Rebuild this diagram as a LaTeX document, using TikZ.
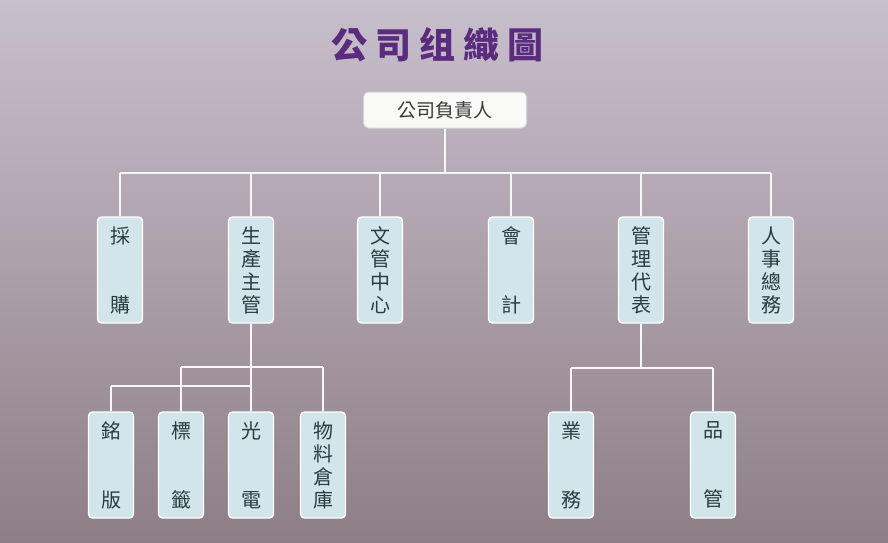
\documentclass[tikz,border=0pt]{standalone}
\usepackage{fontspec}
\newfontfamily\cjk{Noto Sans CJK TC}
\definecolor{bgtop}{HTML}{C8BFCD}
\definecolor{bgmid}{HTML}{B0A5B5}
\definecolor{bgbot}{HTML}{8E7F86}
\definecolor{boxfill}{HTML}{D2E5EB}
\definecolor{boxtext}{HTML}{263F3E}
\definecolor{titlec}{HTML}{5B2C7E}
\definecolor{bossfill}{HTML}{F9F9F8}
\definecolor{bossdraw}{HTML}{D6D6D6}
\definecolor{bosstext}{HTML}{3A3A3A}
\tikzset{
  unit/.style={draw=white, line width=1.4pt, fill=boxfill, rounded corners=4pt,
    minimum width=45pt, minimum height=106pt, inner sep=0pt, align=center,
    text=boxtext, font=\cjk\fontsize{20}{23}\selectfont},
  boss/.style={draw=bossdraw, line width=1pt, fill=bossfill, rounded corners=5pt,
    minimum width=163pt, minimum height=36pt, inner sep=0pt,
    text=bosstext, font=\cjk\fontsize{19}{23}\selectfont},
  conn/.style={draw=white!94!gray, line width=1.5pt},
  titletext/.style={text=titlec, font=\cjk\bfseries\fontsize{36}{40}\selectfont, inner sep=0pt}
}
\begin{document}
\begin{tikzpicture}[x=1pt,y=-1pt]
\useasboundingbox (0,0) rectangle (888,542);
\shade[top color=bgtop, middle color=bgmid, bottom color=bgbot] (0,0) rectangle (888,542);

\node[titletext] (title) at (437.5,45) {公\hspace{8pt}司\hspace{8pt}组\hspace{8pt}織\hspace{8pt}圖};

\node[boss] (ceo) at (445,110) {公司負責人};

% level 1
\node[unit] (buy)  at (120,270) {採\\[46pt]購};
\node[unit] (prod) at (251,270) {生\\產\\主\\管};
\node[unit] (doc)  at (380,270) {文\\管\\中\\心};
\node[unit] (acc)  at (511,270) {會\\[46pt]計};
\node[unit] (mr)   at (641,270) {管\\理\\代\\表};
\node[unit] (hr)   at (771,270) {人\\事\\總\\務};

% level 2
\node[unit] (name)  at (111,465) {銘\\[46pt]版};
\node[unit] (label) at (181,465) {標\\[46pt]籤};
\node[unit] (opto)  at (251,465) {光\\[46pt]電};
\node[unit] (ware)  at (323,465) {物\\料\\倉\\庫};
\node[unit] (sales) at (571,465) {業\\[46pt]務};
\node[unit] (qc)    at (713,465) {品\\[46pt]管};

\coordinate (bus) at (445,173);
\coordinate (pa) at (0,367);
\coordinate (pb) at (0,386);
\coordinate (ma) at (0,368);

% connectors level 1
\draw[conn] (ceo.south) -- (bus);
\draw[conn] (buy.north |- bus) -- (hr.north |- bus);
\foreach \n in {buy,prod,doc,acc,mr,hr}
  \draw[conn] (\n.north) -- (\n.north |- bus);

% production branch
\draw[conn] (prod.south) -- (opto.north);
\draw[conn] (label.north |- pa) -- (ware.north |- pa);
\draw[conn] (name.north |- pb) -- (opto.north |- pb);
\draw[conn] (label.north |- pa) -- (label.north);
\draw[conn] (ware.north |- pa) -- (ware.north);
\draw[conn] (name.north |- pb) -- (name.north);

% management branch
\draw[conn] (mr.south) -- (mr.south |- ma);
\draw[conn] (sales.north |- ma) -- (qc.north |- ma);
\draw[conn] (sales.north |- ma) -- (sales.north);
\draw[conn] (qc.north |- ma) -- (qc.north);
\end{tikzpicture}
\end{document}
